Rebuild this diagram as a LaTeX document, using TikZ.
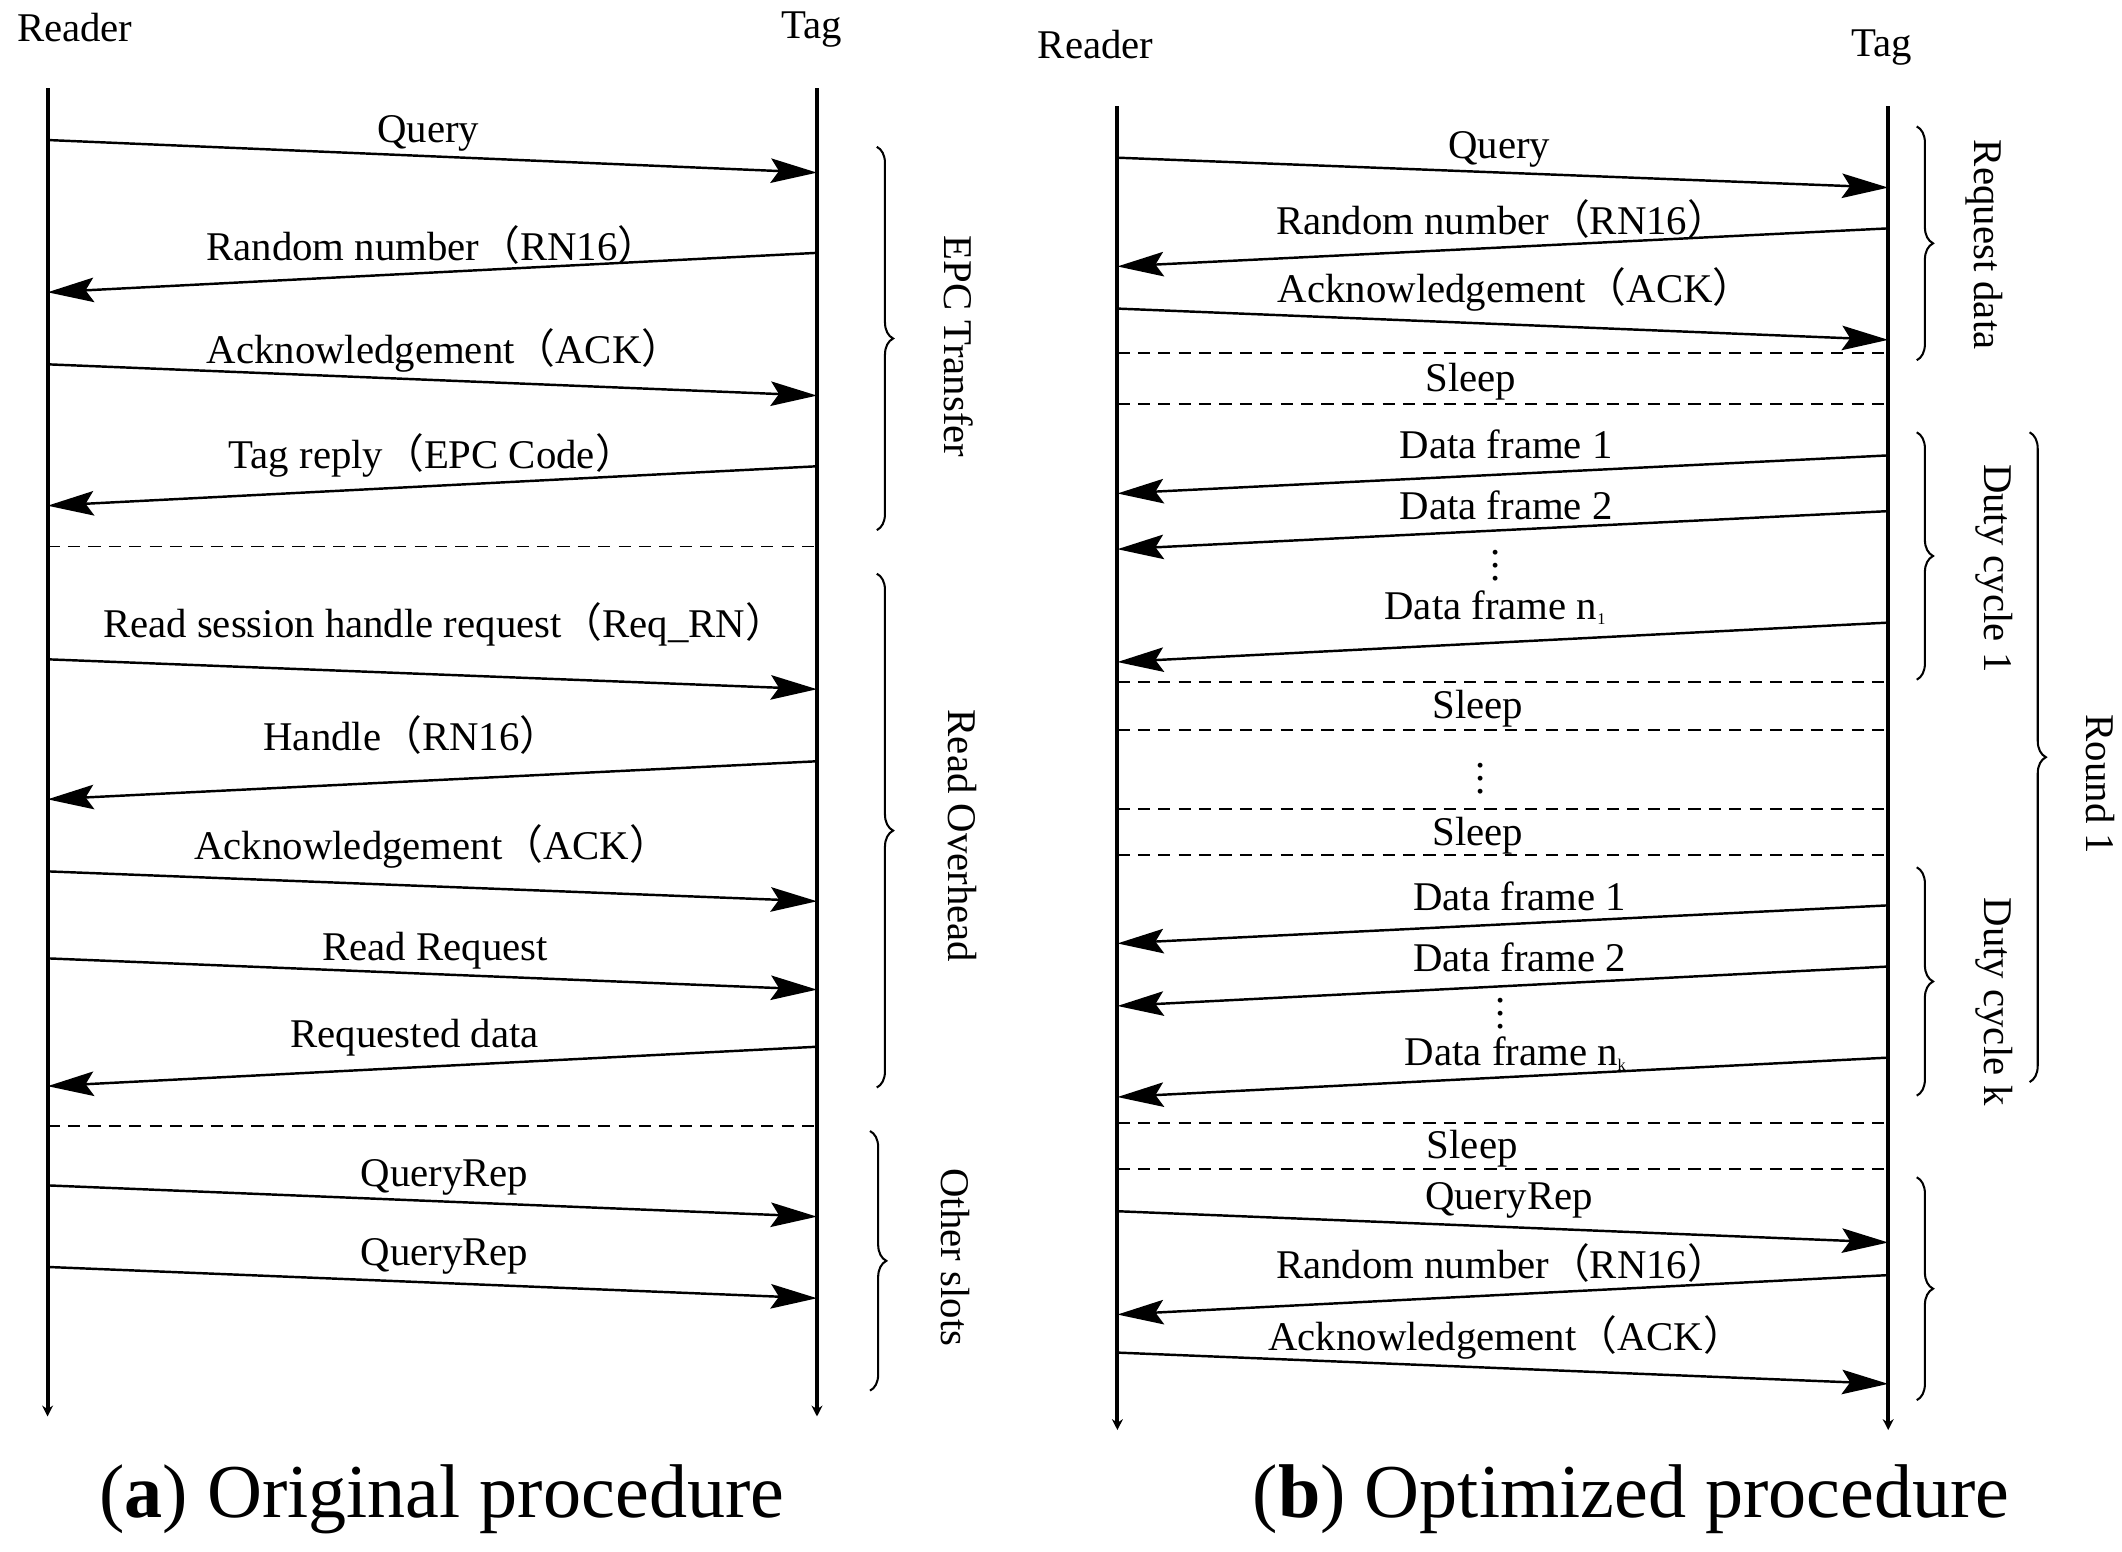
\documentclass[tikz,border=0pt]{standalone}
\usepackage{fontspec}
\setmainfont{Liberation Serif}
\newfontfamily\cjk{Noto Sans CJK SC}
\usetikzlibrary{arrows.meta,decorations.pathreplacing}
\newcommand\lpar{{\cjk （}}
\newcommand\rpar{{\cjk ）}}
\newcommand\vdts{\shortstack{.\\[-16pt].\\[-16pt].}}
\begin{document}
\begin{tikzpicture}[x=1pt,y=-1pt,
  msg/.style={arrows={-Stealth[length=34pt,width=18pt,inset=6pt]}, line width=1.8pt},
  life/.style={line width=3pt,arrows={-Stealth[length=8pt,width=8pt]}},
  dsh/.style={line width=1.4pt,dash pattern=on 9pt off 6pt},
  lbl/.style={font=\fontsize{30}{32}\selectfont, inner sep=0pt},
  vd/.style={font=\fontsize{30}{32}\selectfont, inner sep=0pt},
  brc/.style={decorate,decoration={brace,amplitude=12pt},line width=1.5pt},
  btxt/.style={lbl,rotate=-90}]
\useasboundingbox (0,0) rectangle (1561,1141);
% (a)
\node[lbl] (ra) at (55,20) {Reader};
\node[lbl] (ta) at (597,22) {Tag};
\coordinate (ra0) at (35,65); \coordinate (ra1) at (35,1042);
\coordinate (ta0) at (601,65); \coordinate (ta1) at (601,1042);
\draw[life] (ra0) -- (ra1);
\draw[life] (ta0) -- (ta1);
\foreach \n/\ya/\yb/\dir in {1/103/127/r,2/186/215/l,3/268/291/r,4/343/372/l,5/485/507/r,6/560/588/l,7/641/663/r,8/705/728/r,9/770/799/l,10/872/895/r,11/932/955/r}{
  \if\dir r
    \coordinate (a\n s) at (35,\ya); \coordinate (a\n e) at (601,\yb);
  \else
    \coordinate (a\n s) at (601,\ya); \coordinate (a\n e) at (35,\yb);
  \fi
  \draw[msg] (a\n s) -- (a\n e);
}
\node[lbl] at (315,98) {Query};
\node[lbl] at (318,180) {Random number\lpar RN16\rpar};
\node[lbl] at (327,258) {Acknowledgement\lpar ACK\rpar};
\node[lbl] at (318,335) {Tag reply\lpar EPC Code\rpar};
\node[lbl] at (327,459) {Read session handle request\lpar Req\_RN\rpar};
\node[lbl] at (303,541) {Handle\lpar RN16\rpar};
\node[lbl] at (318,623) {Acknowledgement\lpar ACK\rpar};
\node[lbl] at (320,699) {Read Request};
\node[lbl] at (305,763) {Requested data};
\node[lbl] at (327,866) {QueryRep};
\node[lbl] at (327,924) {QueryRep};
\draw[dsh] (35,402) -- (601,402);
\draw[dsh] (35,828) -- (601,828);
\draw[brc] (645,108) -- (645,390);
\draw[brc] (645,422) -- (645,800);
\draw[brc] (640,832) -- (640,1023);
\node[btxt] at (705,255) {EPC Transfer};
\node[btxt] at (708,615) {Read Overhead};
\node[btxt] at (703,925) {Other slots};
% (b)
\node[lbl] (rb) at (806,33) {Reader};
\node[lbl] (tb) at (1384,35) {Tag};
\coordinate (rb0) at (822,78); \coordinate (rb1) at (822,1052);
\coordinate (tb0) at (1389,78); \coordinate (tb1) at (1389,1052);
\draw[life] (rb0) -- (rb1);
\draw[life] (tb0) -- (tb1);
\foreach \n/\ya/\yb/\dir in {1/116/138/r,2/168/196/l,3/227/250/r,4/335/363/l,5/376/404/l,6/458/487/l,7/666/694/l,8/711/740/l,9/778/807/l,10/891/914/r,11/938/967/l,12/995/1018/r}{
  \if\dir r
    \coordinate (b\n s) at (822,\ya); \coordinate (b\n e) at (1389,\yb);
  \else
    \coordinate (b\n s) at (1389,\ya); \coordinate (b\n e) at (822,\yb);
  \fi
  \draw[msg] (b\n s) -- (b\n e);
}
\node[lbl] at (1103,110) {Query};
\node[lbl] at (1105,161) {Random number\lpar RN16\rpar};
\node[lbl] at (1115,213) {Acknowledgement\lpar ACK\rpar};
\node[lbl] at (1082,281) {Sleep};
\node[lbl] at (1108,327) {Data frame 1};
\node[lbl] at (1108,372) {Data frame 2};
\node[vd] at (1100,408) {\vdts};
\node[lbl] at (1100,447) {Data frame n\textsubscript{\fontsize{12}{12}\selectfont 1}};
\node[lbl] at (1087,521) {Sleep};
\node[vd] at (1089,565) {\vdts};
\node[lbl] at (1087,615) {Sleep};
\node[lbl] at (1118,659) {Data frame 1};
\node[lbl] at (1118,704) {Data frame 2};
\node[vd] at (1104,738) {\vdts};
\node[lbl] at (1115,775) {Data frame n\textsubscript{\fontsize{12}{12}\selectfont k}};
\node[lbl] at (1083,845) {Sleep};
\node[lbl] at (1110,883) {QueryRep};
\node[lbl] at (1105,929) {Random number\lpar RN16\rpar};
\node[lbl] at (1108,984) {Acknowledgement\lpar ACK\rpar};
\foreach \y in {260,297,502,537,595,629,826,860}{\draw[dsh] (822,\y) -- (1389,\y);}
\draw[brc] (1410,93) -- (1410,265);
\draw[brc] (1410,318) -- (1410,500);
\draw[brc] (1410,638) -- (1410,806);
\draw[brc] (1493,318) -- (1493,796);
\draw[brc] (1410,866) -- (1410,1030);
\node[btxt] at (1460,180) {Request data};
\node[btxt] at (1467,418) {Duty cycle 1};
\node[btxt] at (1467,737) {Duty cycle k};
\node[btxt] at (1545,577) {Round 1};
\node[inner sep=0pt,font=\fontsize{56}{60}\selectfont] (capa) at (325,1103) {(\textbf{a}) Original procedure};
\node[inner sep=0pt,font=\fontsize{56}{60}\selectfont] (capb) at (1200,1103) {(\textbf{b}) Optimized procedure};
\end{tikzpicture}
\end{document}
